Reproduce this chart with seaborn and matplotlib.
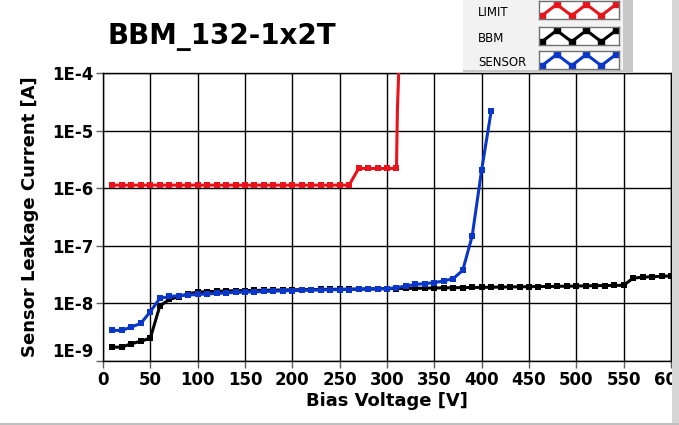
import numpy as np
import pandas as pd
import matplotlib
matplotlib.use('Agg')
import matplotlib.pyplot as plt
import seaborn as sns
from matplotlib.patches import Rectangle
from matplotlib.ticker import FixedLocator, FuncFormatter, NullLocator

# Bias voltage steps [V] and currents [A]
limit_v = [10, 20, 30, 40, 50, 60, 70, 80, 90, 100, 110, 120, 130, 140, 150, 160,
           170, 180, 190, 200, 210, 220, 230, 240, 250, 260,
           270, 280, 290, 300, 310, 311, 313]
limit_i = [1.13e-6] * 26 + [2.2e-6] * 5 + [2.3e-5, 2e-4]

bbm_v = list(range(10, 610, 10))
bbm_i = [1.74e-9, 1.74e-9, 2.0e-9, 2.2e-9, 2.5e-9, 9.0e-9, 1.17e-8, 1.31e-8, 1.47e-8, 1.57e-8,
         1.60e-8, 1.62e-8, 1.64e-8, 1.66e-8, 1.67e-8, 1.68e-8, 1.69e-8, 1.70e-8, 1.71e-8, 1.72e-8,
         1.73e-8, 1.74e-8, 1.75e-8, 1.76e-8, 1.76e-8, 1.77e-8, 1.78e-8, 1.79e-8, 1.80e-8, 1.80e-8,
         1.81e-8, 1.82e-8, 1.83e-8, 1.84e-8, 1.85e-8, 1.86e-8, 1.87e-8, 1.88e-8, 1.89e-8, 1.90e-8,
         1.91e-8, 1.92e-8, 1.93e-8, 1.94e-8, 1.95e-8, 1.96e-8, 1.97e-8, 1.98e-8, 1.99e-8, 2.00e-8,
         2.02e-8, 2.03e-8, 2.04e-8, 2.05e-8, 2.06e-8, 2.75e-8, 2.85e-8, 2.9e-8, 2.95e-8, 3.0e-8]

sensor_v = list(range(10, 420, 10))
sensor_i = [3.4e-9, 3.4e-9, 3.9e-9, 4.5e-9, 7.2e-9, 1.22e-8, 1.32e-8, 1.36e-8, 1.40e-8, 1.43e-8,
            1.46e-8, 1.49e-8, 1.52e-8, 1.55e-8, 1.57e-8, 1.59e-8, 1.61e-8, 1.63e-8, 1.65e-8, 1.67e-8,
            1.68e-8, 1.70e-8, 1.71e-8, 1.72e-8, 1.73e-8, 1.74e-8, 1.75e-8, 1.76e-8, 1.78e-8, 1.80e-8,
            1.88e-8, 2.0e-8, 2.14e-8, 2.2e-8, 2.3e-8, 2.45e-8, 2.7e-8, 3.75e-8, 1.48e-7, 2.1e-6, 2.15e-5]

names = ['LIMIT', 'BBM', 'SENSOR']
colors = ['#e8141c', '#000000', '#0a37c8']
series = [(limit_v, limit_i, list(range(31))), (bbm_v, bbm_i, None), (sensor_v, sensor_i, None)]

x_ticks = list(range(0, 650, 50))
y_ticks = [1e-9, 1e-8, 1e-7, 1e-6, 1e-5, 1e-4]

sns.set_theme(style='white')
plt.rcParams['font.family'] = ['DejaVu Sans']
plt.rcParams['text.color'] = 'black'
plt.rcParams['axes.labelcolor'] = 'black'
plt.rcParams['xtick.color'] = 'black'
plt.rcParams['ytick.color'] = 'black'

fig = plt.figure(figsize=(6.79, 4.25), dpi=100)
W, H = 679, 425
ax = fig.add_axes([103 / W, 1 - 361 / H, 568 / W, 288 / H])

for (v, i, mev), col in zip(series, colors):
    df = pd.DataFrame({'v': v, 'i': i})
    kw = {}
    if mev is not None:
        kw['markevery'] = mev
    sns.lineplot(data=df, x='v', y='i', ax=ax, color=col, lw=2.2, marker='s',
                 markersize=4.5, markeredgewidth=0, sort=False, zorder=3, **kw)

ax.set_yscale('log')
ax.set_xlim(0, 600)
ax.set_ylim(1e-9, 1e-4)
ax.xaxis.set_major_locator(FixedLocator(x_ticks))
ax.yaxis.set_major_locator(FixedLocator(y_ticks))
ax.yaxis.set_minor_locator(NullLocator())
ax.yaxis.set_major_formatter(FuncFormatter(lambda val, pos: f'1E{int(round(np.log10(val)))}'))
ax.grid(True, color='black', lw=1)
ax.set_axisbelow(True)
for s in ax.spines.values():
    s.set_color('black')
    s.set_linewidth(1)
ax.tick_params(axis='both', which='major', length=5, width=1, color='#606060',
               direction='out', labelsize=12, pad=2, left=True, bottom=True)
fig.canvas.draw()
for lab in ax.get_xticklabels() + ax.get_yticklabels():
    lab.set_fontweight('bold')
# lowest decade label sits a little higher, as in the instrument display
ax.get_yticklabels()[0].set_va('bottom')

ax.set_xlabel('Bias Voltage [V]', fontsize=13, fontweight='bold', labelpad=2)
ax.set_ylabel('Sensor Leakage Current [A]', fontsize=13, fontweight='bold', labelpad=9)

fig.text(108 / W, 1 - 37 / H, 'BBM_132-1x2T', fontsize=20, fontweight='bold',
         ha='left', va='center')

# legend panel drawn like the instrument's plot legend
fig.patches.append(Rectangle((463 / W, 1 - 72 / H), 170 / W, 72 / H, transform=fig.transFigure,
                             facecolor='#c8c8c8', edgecolor='none', zorder=5))
fig.patches.append(Rectangle((463 / W, 1 - 70 / H), 160 / W, 70 / H, transform=fig.transFigure,
                             facecolor='#f2f2f2', edgecolor='none', zorder=6))
box_tops = [1, 27, 51]
for name, col, top in zip(names, colors, box_tops):
    fig.text(478 / W, 1 - (top + 11) / H, name, fontsize=8.5, ha='left', va='center', zorder=7)
    sw = fig.add_axes([539 / W, 1 - (top + 18) / H, 80 / W, 18 / H], zorder=7)
    sw.plot(np.arange(6), [0, 1, 0, 1, 0, 1], color=col, lw=2.2, marker='s', markersize=4)
    sw.set_xlim(-0.2, 5.2)
    sw.set_ylim(-0.3, 1.3)
    sw.set_xticks([])
    sw.set_yticks([])
    sw.set_facecolor('white')
    for s in sw.spines.values():
        s.set_color('#707070')
        s.set_linewidth(1)

# window chrome: scrollbar on right, border at bottom
fig.patches.append(Rectangle((672 / W, 0), 7 / W, 1, transform=fig.transFigure,
                             facecolor='#d6d6d6', edgecolor='none', zorder=10))
fig.patches.append(Rectangle((0, 0), 1, 2 / H, transform=fig.transFigure,
                             facecolor='#c0c0c0', edgecolor='none', zorder=10))

fig.savefig('out.png', dpi=100)
